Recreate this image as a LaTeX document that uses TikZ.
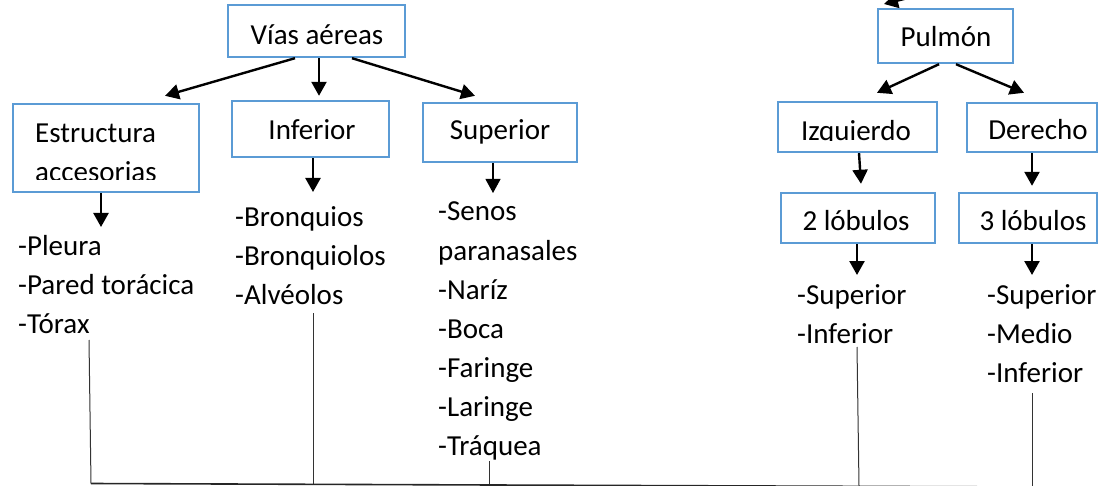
\documentclass[tikz,border=0pt]{standalone}
\usepackage{fontspec}
\setmainfont{Carlito}
\usetikzlibrary{arrows.meta}
\definecolor{boxblue}{RGB}{91,155,213}
\newcommand\mybox[5]{\node[box, minimum width={#4pt-#2pt}, minimum height={#5pt-#3pt}] (#1) at ({(#2+#4)/2},{(#3+#5)/2}) {};}
\begin{document}
\begin{tikzpicture}[x=1pt,y=-1pt,
  box/.style={draw=boxblue, line width=2.4pt, rectangle, inner sep=0pt},
  txt/.style={inner sep=0pt, font=\fontsize{29}{35}\selectfont},
  lt/.style={txt, anchor=base west},
  ct/.style={txt, anchor=base},
  arr/.style={line width=2.4pt, -{Triangle[width=15pt,length=14pt]}},
  thinarr/.style={line width=1.1pt, -{Triangle[width=15pt,length=14pt]}},
  thin/.style={line width=1pt, black!80}]
\useasboundingbox (0,0) rectangle (1099,486);

% boxes
\mybox{vias}{228}{5}{405}{57}
\mybox{estr}{13}{104}{199}{192}
\mybox{inf}{232}{101}{389}{157}
\mybox{sup}{423}{103}{577}{162}
\mybox{pulm}{878}{9}{1013}{63}
\mybox{izq}{778}{102}{937}{152}
\mybox{der}{967}{103}{1097}{152}
\mybox{lobA}{781}{193}{935}{243}
\mybox{lobB}{959}{193}{1097}{243}

% box texts
\node[ct] (viasT) at (317,45) {Vías aéreas};
\begin{scope}
\clip (13,104) rectangle (199,180);
\node[lt] (estrT1) at (35,143) {Estructura};
\node[lt] (estrT2) at (35,181.5) {accesorias};
\end{scope}
\node[ct] (infT) at (312,140) {Inferior};
\node[ct] (supT) at (500,140) {Superior};
\node[ct] (pulmT) at (946,47) {Pulmón};
\begin{scope}
\clip (778,102) rectangle (937,140.5);
\node[ct] (izqT) at (856,140.5) {Izquierdo};
\end{scope}
\node[ct] (derT) at (1038,140) {Derecho};
\node[ct] (lobAT) at (856,230) {2 lóbulos};
\node[ct] (lobBT) at (1033,230) {3 lóbulos};

% lists
\node[lt] (l1) at (18,255) {-Pleura};
\node[lt] (l2) at (18,294) {-Pared torácica};
\node[lt] (l3) at (18,333) {-Tórax};
\node[lt] (m1) at (235,226) {-Bronquios};
\node[lt] (m2) at (235,265) {-Bronquiolos};
\node[lt] (m3) at (235,304) {-Alvéolos};
\node[lt] (s1) at (438,221) {-Senos};
\node[lt] (s2) at (438,260) {paranasales};
\node[lt] (s3) at (438,299) {-Naríz};
\node[lt] (s4) at (438,338) {-Boca};
\node[lt] (s5) at (438,377) {-Faringe};
\node[lt] (s6) at (438,416) {-Laringe};
\node[lt] (s7) at (438,455) {-Tráquea};
\node[lt] (a1) at (797,304) {-Superior};
\node[lt] (a2) at (797,343) {-Inferior};
\node[lt] (b1) at (987,304) {-Superior};
\node[lt] (b2) at (987,343) {-Medio};
\node[lt] (b3) at (987,382) {-Inferior};

% arrows between boxes
\draw[arr] ([xshift=-21.5pt]vias.south) -- ([xshift=59pt,yshift=7pt]estr.north);
\draw[arr] ([xshift=2.5pt]vias.south) -- ([xshift=8.5pt,yshift=4pt]inf.north);
\draw[arr] ([xshift=35.5pt]vias.south) -- ([xshift=-25pt,yshift=6pt]sup.north);
\draw[arr] ([xshift=-6.5pt]pulm.south) -- ([xshift=19.5pt,yshift=8pt]izq.north);
\draw[arr] ([xshift=10.5pt]pulm.south) -- ([xshift=-8pt,yshift=9pt]der.north);
\draw[arr] ([xshift=1.5pt]izq.south) -- ([xshift=3pt,yshift=8pt]lobA.north);
\draw[arr] (der.south) -- ([xshift=4pt,yshift=6pt]lobB.north);

% arrows to lists
\coordinate (estrTip) at (101,227);
\coordinate (infTip) at (313,192);
\coordinate (supTip) at (493,193);
\coordinate (lobATip) at (857,275);
\coordinate (lobBTip) at (1032,275);
\draw[arr] (estr.south -| estrTip) -- (estrTip);
\draw[arr] (inf.south -| infTip) -- (infTip);
\draw[thinarr] (sup.south -| supTip) -- (supTip);
\draw[arr] (lobA.south -| lobATip) -- (lobATip);
\draw[arr] (lobB.south -| lobBTip) -- (lobBTip);

% incoming arrow into view at top
\coordinate (topSrc) at (964,-16);
\coordinate (topTip) at (884,4);
\draw[arr] (topSrc) -- (topTip);

% thin connector lines to bottom bar
\coordinate (c1t) at (89,340);   \coordinate (c1b) at (91,483.5);
\coordinate (c2t) at (313,313);  \coordinate (c2b) at (313,484);
\coordinate (c3t) at (489,461);  \coordinate (c3b) at (489,484.5);
\coordinate (c4t) at (857,347);  \coordinate (c4b) at (859,486);
\coordinate (c5t) at (1032,393); \coordinate (c5b) at (1032,487);
\draw[thin] (c1t) -- (c1b);
\draw[thin] (c2t) -- (c2b);
\draw[thin] (c3t) -- (c3b);
\draw[thin] (c4t) -- (c4b);
\draw[thin] (c5t) -- (c5b);
\draw[line width=1.6pt, black!85] (c1b) -- (c5b);
\end{tikzpicture}
\end{document}
